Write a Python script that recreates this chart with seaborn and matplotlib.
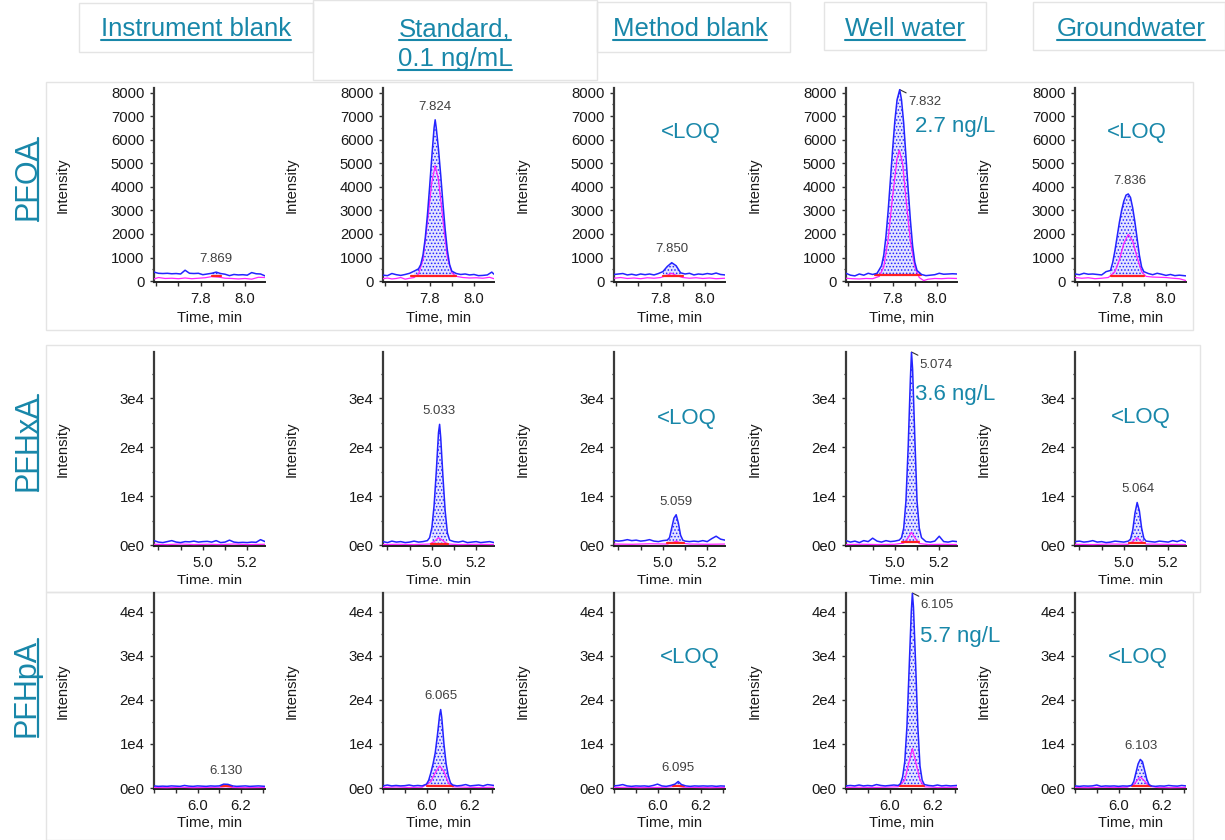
import matplotlib.pyplot as plt
import pandas as pd
import seaborn as sns
from matplotlib.lines import Line2D
from matplotlib.patches import Rectangle
from matplotlib.ticker import FixedLocator, MultipleLocator, FormatStrFormatter

W, H = 1225, 840
TEAL = '#1887a9'
BLUE = '#2424ff'
MAGENTA = '#ff22ff'
RED = '#ff2020'

samples = ['Instrument blank', 'Standard,\n0.1 ng/mL', 'Method blank', 'Well water', 'Groundwater']
compounds = ['PFOA', 'PFHxA', 'PFHpA']

# ---------------- PFOA ----------------
pfoa_rt = ['7.869', '7.824', '7.850', '7.832', '7.836']
pfoa_result = ['', '', '<LOQ', '2.7 ng/L', '<LOQ']
pfoa_xlim = (7.59, 8.09)
pfoa_ylim = (-40, 8200)
pfoa_xticks = [7.8, 8.0]
pfoa_yticks = [0, 1000, 2000, 3000, 4000, 5000, 6000, 7000, 8000]
pfoa_yticklabels = ['0', '1000', '2000', '3000', '4000', '5000', '6000', '7000', '8000']
pfoa_blue = [
    [(7.59, 380), (7.61, 330), (7.63, 320), (7.65, 330), (7.67, 310), (7.69, 320), (7.71, 300), (7.73, 460),
     (7.75, 330), (7.77, 320), (7.79, 330), (7.81, 270), (7.83, 300), (7.85, 330), (7.87, 380), (7.89, 320),
     (7.91, 290), (7.93, 230), (7.95, 280), (7.97, 260), (7.99, 270), (8.01, 250), (8.03, 360), (8.05, 310),
     (8.07, 300), (8.09, 220)],
    [(7.59, 250), (7.61, 230), (7.63, 320), (7.65, 270), (7.67, 240), (7.69, 280), (7.71, 330), (7.73, 420),
     (7.75, 520), (7.76, 700), (7.77, 1100), (7.78, 1800), (7.79, 2800), (7.80, 4000), (7.81, 5300),
     (7.82, 6500), (7.825, 6850), (7.83, 6500), (7.84, 5600), (7.85, 4500), (7.86, 3300), (7.87, 2200),
     (7.88, 1300), (7.89, 700), (7.90, 420), (7.92, 320), (7.94, 280), (7.96, 300), (7.98, 260), (8.00, 280),
     (8.02, 230), (8.04, 240), (8.06, 260), (8.08, 380), (8.09, 290)],
    [(7.59, 280), (7.61, 300), (7.63, 320), (7.65, 260), (7.67, 290), (7.69, 250), (7.71, 300), (7.73, 270),
     (7.75, 300), (7.77, 260), (7.79, 320), (7.81, 400), (7.83, 620), (7.85, 780), (7.87, 650), (7.89, 350),
     (7.91, 300), (7.93, 330), (7.95, 260), (7.97, 300), (7.99, 280), (8.01, 320), (8.03, 290), (8.05, 340),
     (8.07, 280), (8.09, 260)],
    [(7.59, 330), (7.61, 250), (7.63, 220), (7.65, 300), (7.67, 250), (7.69, 330), (7.71, 280), (7.73, 330),
     (7.75, 650), (7.76, 1100), (7.77, 1900), (7.78, 3000), (7.79, 4300), (7.80, 5600), (7.81, 6800),
     (7.82, 7700), (7.832, 8130), (7.84, 7700), (7.85, 6700), (7.86, 5300), (7.87, 3900), (7.88, 2600),
     (7.89, 1500), (7.90, 800), (7.91, 450), (7.93, 280), (7.95, 230), (7.97, 250), (7.99, 270), (8.01, 330),
     (8.03, 290), (8.05, 300), (8.07, 310), (8.09, 300)],
    [(7.59, 300), (7.61, 270), (7.63, 330), (7.65, 290), (7.67, 300), (7.69, 280), (7.71, 260), (7.73, 400),
     (7.75, 450), (7.76, 800), (7.77, 1300), (7.78, 1900), (7.79, 2500), (7.80, 3000), (7.81, 3400),
     (7.82, 3650), (7.83, 3700), (7.84, 3550), (7.85, 3100), (7.86, 2500), (7.87, 1800), (7.88, 1100),
     (7.89, 600), (7.90, 400), (7.92, 320), (7.94, 270), (7.96, 330), (7.98, 290), (8.00, 240), (8.02, 280),
     (8.04, 230), (8.06, 250), (8.09, 220)],
]
pfoa_magenta = [
    [(7.59, 90), (7.61, 150), (7.64, 110), (7.67, 120), (7.70, 100), (7.73, 130), (7.76, 100), (7.79, 120),
     (7.82, 140), (7.85, 190), (7.88, 170), (7.91, 120), (7.94, 110), (7.97, 90), (8.00, 110), (8.03, 80),
     (8.06, 160), (8.09, 150)],
    [(7.59, 100), (7.61, 130), (7.63, 90), (7.65, 110), (7.67, 150), (7.69, 80), (7.71, 120), (7.73, 150),
     (7.75, 300), (7.77, 900), (7.79, 2500), (7.81, 4200), (7.825, 4900), (7.84, 4300), (7.86, 2600),
     (7.88, 1000), (7.90, 350), (7.92, 200), (7.95, 150), (7.98, 130), (8.01, 140), (8.04, 120), (8.07, 160),
     (8.09, 100)],
    [(7.59, 120), (7.62, 150), (7.65, 110), (7.68, 130), (7.71, 100), (7.74, 140), (7.77, 120), (7.80, 150),
     (7.83, 250), (7.85, 330), (7.87, 240), (7.90, 150), (7.93, 120), (7.96, 140), (7.99, 110), (8.02, 130),
     (8.05, 100), (8.09, 120)],
    [(7.59, 120), (7.62, 100), (7.65, 90), (7.68, 110), (7.71, 100), (7.74, 200), (7.76, 600), (7.78, 1800),
     (7.80, 3600), (7.82, 5200), (7.83, 5560), (7.845, 5000), (7.86, 3500), (7.88, 1700), (7.90, 600),
     (7.92, 150), (7.94, 20), (7.96, 80), (7.99, 110), (8.02, 100), (8.05, 120), (8.09, 110)],
    [(7.59, 150), (7.62, 120), (7.65, 140), (7.68, 100), (7.71, 120), (7.74, 150), (7.77, 400), (7.79, 900),
     (7.81, 1600), (7.83, 1980), (7.85, 1700), (7.87, 1000), (7.89, 400), (7.91, 200), (7.94, 170),
     (7.97, 160), (8.00, 150), (8.03, 120), (8.06, 100), (8.09, 20)],
]
# integration start, end and baseline level
pfoa_baseline = [(7.85, 7.89, 200), (7.715, 7.92, 230), (7.81, 7.90, 200), (7.72, 7.93, 250), (7.75, 7.90, 200)]

# ---------------- PFHxA ----------------
pfhxa_rt = [None, '5.033', '5.059', '5.074', '5.064']
pfhxa_result = ['', '', '<LOQ', '3.6 ng/L', '<LOQ']
pfhxa_xlim = (4.78, 5.28)
pfhxa_ylim = (-200, 39500)
pfhxa_xticks = [5.0, 5.2]
pfhxa_yticks = [0, 10000, 20000, 30000]
pfhxa_yticklabels = ['0e0', '1e4', '2e4', '3e4']
pfhxa_blue = [
    [(4.78, 900), (4.80, 600), (4.82, 500), (4.84, 700), (4.86, 900), (4.88, 600), (4.90, 500), (4.92, 700),
     (4.94, 650), (4.96, 800), (4.98, 600), (5.00, 700), (5.02, 750), (5.04, 600), (5.06, 900), (5.08, 500),
     (5.10, 600), (5.12, 1000), (5.14, 600), (5.16, 500), (5.18, 550), (5.20, 500), (5.22, 600), (5.24, 550),
     (5.26, 1100), (5.28, 700)],
    [(4.78, 700), (4.80, 500), (4.82, 800), (4.84, 600), (4.86, 700), (4.88, 500), (4.90, 600), (4.92, 800),
     (4.94, 600), (4.96, 700), (4.98, 900), (4.99, 1500), (5.00, 3500), (5.01, 8000), (5.02, 15000),
     (5.03, 23000), (5.035, 24700), (5.04, 22000), (5.05, 14000), (5.06, 7000), (5.07, 2500), (5.08, 1000),
     (5.10, 700), (5.12, 600), (5.14, 800), (5.16, 500), (5.18, 600), (5.20, 700), (5.22, 500), (5.24, 600),
     (5.26, 700), (5.28, 500)],
    [(4.78, 900), (4.80, 800), (4.82, 900), (4.84, 1100), (4.86, 900), (4.88, 1000), (4.90, 800), (4.92, 900),
     (4.94, 1100), (4.96, 800), (4.98, 700), (5.00, 900), (5.02, 1000), (5.03, 1500), (5.04, 3500),
     (5.05, 5500), (5.06, 6200), (5.07, 4500), (5.08, 2000), (5.09, 1000), (5.10, 800), (5.12, 700),
     (5.14, 800), (5.16, 700), (5.18, 900), (5.20, 700), (5.22, 1300), (5.24, 1800), (5.26, 1200), (5.28, 1000)],
    [(4.78, 900), (4.80, 600), (4.82, 800), (4.84, 500), (4.86, 900), (4.88, 700), (4.90, 1400), (4.92, 800),
     (4.94, 600), (4.96, 900), (4.98, 700), (5.00, 800), (5.02, 1000), (5.03, 1500), (5.04, 3500),
     (5.05, 9000), (5.06, 20000), (5.07, 34000), (5.075, 39500), (5.08, 36000), (5.09, 22000), (5.10, 9000),
     (5.11, 3500), (5.12, 1500), (5.14, 700), (5.16, 600), (5.18, 800), (5.20, 1800), (5.22, 700),
     (5.24, 600), (5.26, 800), (5.28, 700)],
    [(4.78, 700), (4.80, 800), (4.82, 600), (4.84, 700), (4.86, 900), (4.88, 600), (4.90, 700), (4.92, 500),
     (4.94, 600), (4.96, 800), (4.98, 700), (5.00, 600), (5.02, 800), (5.03, 1200), (5.04, 3000),
     (5.05, 6500), (5.06, 8700), (5.07, 7000), (5.08, 3500), (5.09, 1400), (5.10, 800), (5.12, 700),
     (5.14, 600), (5.16, 800), (5.18, 700), (5.20, 600), (5.22, 900), (5.24, 700), (5.26, 1000), (5.28, 600)],
]
pfhxa_magenta = [
    [(4.78, 150), (4.84, 100), (4.90, 200), (4.96, 100), (5.02, 150), (5.08, 100), (5.14, 200), (5.20, 100),
     (5.28, 150)],
    [(4.78, 100), (4.85, 150), (4.92, 100), (4.99, 200), (5.01, 700), (5.03, 1500), (5.05, 900), (5.07, 200),
     (5.12, 100), (5.20, 150), (5.28, 100)],
    [(4.78, 200), (4.86, 150), (4.94, 250), (5.02, 200), (5.05, 600), (5.06, 800), (5.08, 400), (5.12, 200),
     (5.20, 150), (5.28, 200)],
    [(4.78, 100), (4.85, 150), (4.92, 100), (5.00, 150), (5.04, 400), (5.06, 1500), (5.075, 2600),
     (5.09, 1500), (5.11, 300), (5.15, 100), (5.22, 150), (5.28, 100)],
    [(4.78, 150), (4.86, 100), (4.94, 200), (5.02, 150), (5.04, 700), (5.06, 1500), (5.08, 700), (5.10, 200),
     (5.18, 150), (5.28, 100)],
]
pfhxa_baseline = [None, (4.995, 5.075, 300), (5.02, 5.095, 400), (5.03, 5.11, 700), (5.025, 5.095, 350)]

# ---------------- PFHpA ----------------
pfhpa_rt = ['6.130', '6.065', '6.095', '6.105', '6.103']
pfhpa_result = ['', '', '<LOQ', '5.7 ng/L', '<LOQ']
pfhpa_xlim = (5.80, 6.31)
pfhpa_ylim = (-200, 44200)
pfhpa_xticks = [6.0, 6.2]
pfhpa_yticks = [0, 10000, 20000, 30000, 40000]
pfhpa_yticklabels = ['0e0', '1e4', '2e4', '3e4', '4e4']
pfhpa_blue = [
    [(5.80, 500), (5.82, 400), (5.84, 450), (5.86, 400), (5.88, 500), (5.90, 450), (5.92, 400), (5.94, 600),
     (5.96, 450), (5.98, 400), (6.00, 500), (6.02, 450), (6.04, 400), (6.06, 500), (6.08, 450), (6.10, 500),
     (6.12, 900), (6.14, 850), (6.16, 500), (6.18, 400), (6.20, 450), (6.22, 500), (6.24, 400), (6.26, 450),
     (6.28, 500), (6.31, 400)],
    [(5.80, 500), (5.82, 700), (5.84, 500), (5.86, 600), (5.88, 500), (5.90, 550), (5.92, 700), (5.94, 500),
     (5.96, 600), (5.98, 500), (6.00, 900), (6.01, 1800), (6.02, 3500), (6.03, 5500), (6.04, 8000),
     (6.05, 12000), (6.06, 16500), (6.065, 17800), (6.07, 16000), (6.08, 10000), (6.09, 5500), (6.10, 2800),
     (6.11, 1200), (6.12, 700), (6.14, 500), (6.16, 600), (6.18, 800), (6.20, 500), (6.22, 600), (6.24, 700),
     (6.26, 500), (6.28, 800), (6.31, 600)],
    [(5.80, 500), (5.82, 600), (5.84, 800), (5.86, 500), (5.88, 400), (5.90, 500), (5.92, 450), (5.94, 500),
     (5.96, 400), (5.98, 600), (6.00, 900), (6.02, 500), (6.04, 400), (6.06, 600), (6.08, 900), (6.095, 1500),
     (6.11, 800), (6.13, 500), (6.15, 400), (6.17, 500), (6.19, 450), (6.21, 500), (6.23, 450), (6.25, 500),
     (6.27, 400), (6.29, 500), (6.31, 450)],
    [(5.80, 500), (5.82, 600), (5.84, 500), (5.86, 700), (5.88, 500), (5.90, 600), (5.92, 500), (5.94, 800),
     (5.96, 600), (5.98, 500), (6.00, 600), (6.02, 700), (6.04, 600), (6.05, 1000), (6.06, 2500), (6.07, 6000),
     (6.08, 14000), (6.09, 27000), (6.10, 40000), (6.105, 44200), (6.11, 41000), (6.12, 28000), (6.13, 14000),
     (6.14, 5000), (6.15, 1800), (6.16, 800), (6.18, 600), (6.20, 500), (6.22, 700), (6.24, 500), (6.26, 600),
     (6.28, 500), (6.31, 600)],
    [(5.80, 500), (5.82, 400), (5.84, 500), (5.86, 450), (5.88, 500), (5.90, 700), (5.92, 400), (5.94, 500),
     (5.96, 450), (5.98, 500), (6.00, 400), (6.02, 500), (6.04, 450), (6.06, 600), (6.07, 1500), (6.08, 3500),
     (6.09, 5500), (6.10, 6500), (6.11, 6000), (6.12, 4000), (6.13, 2000), (6.14, 800), (6.15, 500),
     (6.17, 400), (6.19, 500), (6.21, 450), (6.23, 600), (6.25, 500), (6.27, 450), (6.29, 600), (6.31, 500)],
]
pfhpa_magenta = [
    [(5.80, 150), (5.86, 100), (5.92, 200), (5.98, 100), (6.04, 150), (6.10, 200), (6.13, 350), (6.16, 150),
     (6.22, 100), (6.31, 150)],
    [(5.80, 150), (5.86, 250), (5.92, 150), (5.98, 200), (6.02, 1500), (6.04, 3500), (6.06, 5000),
     (6.08, 3800), (6.10, 1200), (6.12, 300), (6.18, 200), (6.24, 150), (6.31, 200)],
    [(5.80, 150), (5.86, 200), (5.92, 100), (5.98, 150), (6.04, 200), (6.09, 450), (6.12, 200), (6.18, 150),
     (6.24, 100), (6.31, 150)],
    [(5.80, 150), (5.86, 200), (5.92, 150), (5.98, 200), (6.04, 300), (6.07, 1800), (6.09, 6000),
     (6.105, 9000), (6.12, 6000), (6.14, 1800), (6.16, 300), (6.22, 150), (6.31, 200)],
    [(5.80, 150), (5.86, 100), (5.92, 200), (5.98, 150), (6.04, 200), (6.07, 800), (6.09, 2000),
     (6.10, 2500), (6.12, 1600), (6.14, 400), (6.18, 150), (6.24, 100), (6.31, 150)],
]
pfhpa_baseline = [(6.11, 6.16, 400), (6.00, 6.12, 400), (6.07, 6.12, 400), (6.05, 6.16, 500), (6.06, 6.15, 400)]

# ---------------- layout (pixels of the 1225x840 image) ----------------
col_left = [154, 383, 614, 846, 1075]
ax_width = 111
row_top = [88, 352, 593]
row_bottom = [282, 546, 789]
result_pos = [
    [None, None, (0.69, 0.77), (0.98, 0.80), (0.56, 0.77)],
    [None, None, (0.66, 0.655), (0.98, 0.78), (0.59, 0.66)],
    [None, None, (0.68, 0.67), (1.03, 0.78), (0.57, 0.67)],
]
xlabel_y = [-0.15, -0.145, -0.14]


def fx(px):
    return px / W


def fy(py):
    return 1 - py / H


def trace_frame(points):
    return pd.DataFrame(points, columns=['time', 'intensity'])


def draw_panel(ax, blue, magenta, base, rt, result, rpos, leader):
    df_b = trace_frame(blue)
    df_m = trace_frame(magenta)
    seg = df_b
    if base is not None:
        t0, t1, lvl = base
        seg = df_b[(df_b['time'] >= t0) & (df_b['time'] <= t1)]
        ax.fill_between(seg['time'], lvl, seg['intensity'], facecolor='#e4e4ff', edgecolor=BLUE,
                        hatch='.....', linewidth=0, zorder=2)
        ax.plot([t0, t1], [lvl, lvl], color=RED, lw=1.6, zorder=4)
    sns.lineplot(data=df_m, x='time', y='intensity', ax=ax, color=MAGENTA, linewidth=0.9,
                 estimator=None, zorder=3)
    sns.lineplot(data=df_b, x='time', y='intensity', ax=ax, color=BLUE, linewidth=1.1,
                 estimator=None, zorder=5)
    if rt is not None:
        # label sits above the highest point of the integrated peak
        apex = seg.loc[seg['intensity'].idxmax()]
        if leader:
            ax.annotate(rt, xy=(apex['time'], apex['intensity']), xytext=(6, -9), textcoords='offset points',
                        ha='left', va='center', fontsize=9.5, color='#404040', annotation_clip=False,
                        arrowprops=dict(arrowstyle='-', color='#303030', lw=0.8, shrinkA=0, shrinkB=0))
        else:
            ax.annotate(rt, xy=(float(rt), apex['intensity']), xytext=(0, 9.5), textcoords='offset points',
                        ha='center', va='center', fontsize=9.5, color='#404040')
    if result:
        ax.text(rpos[0], rpos[1], result, transform=ax.transAxes, ha='center', va='center',
                fontsize=16, color=TEAL, clip_on=False)


sns.set_theme(style='ticks')
plt.rcParams['font.family'] = ['Liberation Sans', 'DejaVu Sans']
plt.rcParams['hatch.linewidth'] = 0.7

fig = plt.figure(figsize=(W / 100, H / 100), dpi=100)
fig.patch.set_facecolor('white')

rows = [
    (pfoa_blue, pfoa_magenta, pfoa_baseline, pfoa_rt, pfoa_result, pfoa_xlim, pfoa_ylim, pfoa_xticks,
     pfoa_yticks, pfoa_yticklabels, 500),
    (pfhxa_blue, pfhxa_magenta, pfhxa_baseline, pfhxa_rt, pfhxa_result, pfhxa_xlim, pfhxa_ylim, pfhxa_xticks,
     pfhxa_yticks, pfhxa_yticklabels, 5000),
    (pfhpa_blue, pfhpa_magenta, pfhpa_baseline, pfhpa_rt, pfhpa_result, pfhpa_xlim, pfhpa_ylim, pfhpa_xticks,
     pfhpa_yticks, pfhpa_yticklabels, 5000),
]

for r, (blue, mag, base, rts, res, xlim, ylim, xt, yt, ytl, yminor) in enumerate(rows):
    for c in range(5):
        h = row_bottom[r] - row_top[r]
        ax = fig.add_axes([fx(col_left[c]), fy(row_bottom[r]), ax_width / W, h / H])
        ax.set_zorder(2 if r == 2 else 0)
        ax.patch.set_alpha(0)
        draw_panel(ax, blue[c], mag[c], base[c], rts[c], res[c], result_pos[r][c], c == 3)
        ax.set_xlim(*xlim)
        ax.set_ylim(*ylim)
        ax.xaxis.set_major_locator(FixedLocator(xt))
        ax.xaxis.set_major_formatter(FormatStrFormatter('%.1f'))
        ax.xaxis.set_minor_locator(MultipleLocator(0.1))
        ax.yaxis.set_major_locator(FixedLocator(yt))
        ax.set_yticklabels(ytl)
        ax.yaxis.set_minor_locator(MultipleLocator(yminor))
        for s in ['top', 'right']:
            ax.spines[s].set_visible(False)
        ax.spines['left'].set_linewidth(1.6)
        ax.spines['left'].set_color('#3a3a3a')
        ax.spines['bottom'].set_linewidth(1.4)
        ax.spines['bottom'].set_color('#202020')
        ax.tick_params(axis='both', which='major', direction='out', length=3, width=1, pad=4,
                       labelsize=10.7, labelcolor='#1a1a1a', color='#303030')
        ax.tick_params(axis='y', which='minor', direction='out', length=1.8, width=0.9, color='#303030')
        ax.tick_params(axis='x', which='minor', direction='out', length=3, width=1, color='#303030')
        ax.set_xlabel('Time, min', fontsize=10.7, color='#1a1a1a')
        ax.set_ylabel('Intensity', fontsize=10.7, color='#1a1a1a')
        ax.xaxis.set_label_coords(0.5, xlabel_y[r])
        ax.yaxis.set_label_coords(-0.76, 0.5)

# white cover: the bottom screenshot hides the lower half of the middle row's x label
fig.add_artist(Rectangle((0, 0), 1, fy(584), transform=fig.transFigure, facecolor='white',
                         edgecolor='none', zorder=1))

# light screenshot frames
frames = [(46, 82, 1193, 330), (46, 345, 1200, 592), (46, 592, 1193, 840),
          (79, 3, 313, 52), (313, 0, 597, 80), (597, 2, 790, 52), (824, 2, 986, 50), (1033, 2, 1225, 50)]
for x0, y0, x1, y1 in frames:
    fig.add_artist(Rectangle((fx(x0), fy(y1)), fx(x1) - fx(x0), fy(y0) - fy(y1), transform=fig.transFigure,
                             facecolor='none', edgecolor='#e4e4e4', lw=1, zorder=1.5))

# column headers and row labels (underlined)
header_x = [196, 455, 690, 905, 1131]
header_texts = []
for c, name in enumerate(samples):
    for k, line in enumerate(name.split('\n')):
        t = fig.text(fx(header_x[c]), fy(36 + 30 * k), line, ha='center', va='baseline', fontsize=18.5,
                     color=TEAL, zorder=3)
        header_texts.append(t)

row_y = [179, 443, 688]
row_texts = []
for r, name in enumerate(compounds):
    t = fig.text(fx(35), fy(row_y[r]), name, rotation=90, rotation_mode='anchor', ha='center',
                 va='baseline', fontsize=22, color=TEAL, zorder=3)
    row_texts.append(t)

fig.canvas.draw()
renderer = fig.canvas.get_renderer()
for t in header_texts:
    bb = t.get_window_extent(renderer)
    yb = t.get_position()[1] * H - 4
    fig.add_artist(Line2D([bb.x0 / W, bb.x1 / W], [yb / H, yb / H], transform=fig.transFigure,
                          color=TEAL, lw=1.5, zorder=3))
for t in row_texts:
    bb = t.get_window_extent(renderer)
    xb = t.get_position()[0] * W + 3
    fig.add_artist(Line2D([xb / W, xb / W], [bb.y0 / H, bb.y1 / H], transform=fig.transFigure,
                          color=TEAL, lw=1.6, zorder=3))

fig.savefig('out.png', dpi=100, facecolor='white')
